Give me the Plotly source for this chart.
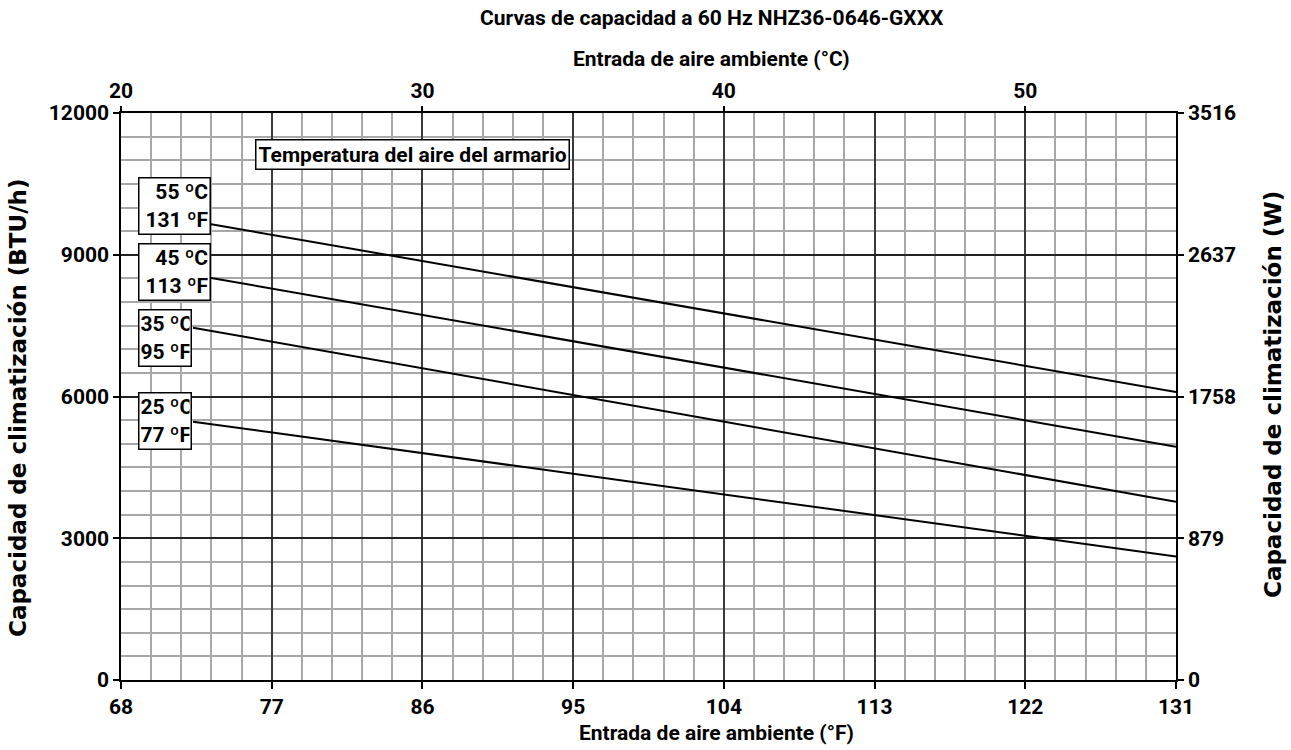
import plotly.graph_objects as go

# ---- data ----
temp_f_start = [73.3, 73.3, 72.3, 72.3]
temp_f_end = [131, 131, 131, 131]
cap_start = [9650, 8514, 7456, 5467]   # BTU/h
cap_end = [6095, 4938, 3774, 2616]     # BTU/h
series_labels = ["55 ºC<br>131 ºF", "45 ºC<br>113 ºF", "35 ºC<br>95 ºF", "25 ºC<br>77 ºF"]

f_ticks = [68, 77, 86, 95, 104, 113, 122, 131]
c_ticks = [20, 30, 40, 50]
btu_ticks = [0, 3000, 6000, 9000, 12000]
w_ticks = [0, 879, 1758, 2637, 3516]

title = "Curvas de capacidad a 60 Hz NHZ36-0646-GXXX"
x_title_f = "Entrada de aire ambiente (°F)"
x_title_c = "Entrada de aire ambiente (°C)"
y_title_btu = "Capacidad de climatización (BTU/h)"
y_title_w = "Capacidad de climatización (W)"
legend_title = "Temperatura del aire del armario"

FONT = "Roboto"
VFONT = "DejaVu Sans"

fig = go.Figure()
for xs, xe, ys, ye in zip(temp_f_start, temp_f_end, cap_start, cap_end):
    fig.add_trace(go.Scatter(x=[xs, xe], y=[ys, ye], mode="lines",
                             line=dict(color="black", width=2), showlegend=False,
                             hoverinfo="skip"))
# invisible trace to activate secondary axes
fig.add_trace(go.Scatter(x=[20], y=[0], xaxis="x2", yaxis="y2", mode="markers",
                         marker=dict(opacity=0), showlegend=False, hoverinfo="skip"))

L, R, T, B = 121, 115, 113, 70
W, H = 1291, 750
pw, ph = W - L - R, H - T - B

def px(xp):
    return (xp - L) / pw

def py(yp):
    return (H - B - yp) / ph

tickfont = dict(family=FONT, size=21, color="black", weight="bold")

fig.update_layout(
    width=W, height=H,
    margin=dict(l=L, r=R, t=T, b=B),
    paper_bgcolor="white", plot_bgcolor="white",
    xaxis=dict(range=[68, 131], tickvals=f_ticks, ticks="outside", ticklen=7,
               tickcolor="black", tickwidth=1.5, tickfont=tickfont,
               showline=True, linecolor="black", linewidth=1.5,
               showgrid=True, gridcolor="#3a3a3a", gridwidth=2,
               minor=dict(dtick=1.8, tick0=68, showgrid=True, gridcolor="#a8a8a8", gridwidth=1.5, ticks=""),
               zeroline=False),
    xaxis2=dict(range=[20, 55], tickvals=c_ticks, overlaying="x", side="top",
                ticks="outside", ticklen=5, tickcolor="black", tickwidth=1.5, tickfont=tickfont,
                showline=True, linecolor="black", linewidth=1.5, showgrid=False,
                zeroline=False),
    yaxis=dict(range=[0, 12000], tickvals=btu_ticks, ticktext=[str(v) for v in btu_ticks],
               ticks="outside", ticklen=6,
               tickcolor="black", tickwidth=1.5, tickfont=tickfont,
               showline=True, linecolor="black", linewidth=1.5,
               showgrid=True, gridcolor="#222222", gridwidth=1.5,
               minor=dict(dtick=500, tick0=0, showgrid=True, gridcolor="#a8a8a8", gridwidth=1.5, ticks=""),
               zeroline=False),
    yaxis2=dict(range=[0, 3516.85], tickvals=w_ticks, ticktext=[str(v) for v in w_ticks],
                overlaying="y", side="right",
                ticks="outside", ticklen=6, tickcolor="black", tickwidth=1.5, tickfont=tickfont,
                showline=True, linecolor="black", linewidth=1.5, showgrid=False,
                zeroline=False),
)

hfont = dict(family=FONT, size=21, color="black", weight="bold")
vfont = dict(family=VFONT, size=23, color="black", weight="bold")

# titles as annotations (pixel-placed)
def add_text(text, cx, cy, font, angle=0):
    fig.add_annotation(text=text, xref="paper", yref="paper", x=px(cx), y=py(cy),
                       xanchor="center", yanchor="middle", showarrow=False,
                       font=font, textangle=angle)

add_text(title, 712, 18, hfont)
add_text(x_title_c, 711, 59, hfont)
add_text(x_title_f, 716, 733, hfont)
add_text(y_title_btu, 18, 408, vfont, -90)
add_text(y_title_w, 1273, 395, vfont, -90)

box_font = dict(family=FONT, size=21, color="black", weight="bold")
# label boxes: (center x px, center y px, width, align)
box_pos = [(174, 205.5, 68, "right"), (174, 271.5, 68, "right"),
           (164.5, 338, 49, "left"), (164.5, 420.5, 49, "left")]
for lab, (cx, cy, wd, al) in zip(series_labels, box_pos):
    fig.add_annotation(text=lab, xref="paper", yref="paper",
                       x=px(cx), y=py(cy), xanchor="center", yanchor="middle",
                       showarrow=False, font=box_font, align=al,
                       bgcolor="white", bordercolor="black", borderwidth=1.5,
                       borderpad=1, width=wd, height=53)

fig.add_annotation(text=legend_title, xref="paper", yref="paper",
                   x=px(412), y=py(154.5), xanchor="center", yanchor="middle",
                   showarrow=False, font=box_font, bgcolor="white",
                   bordercolor="black", borderwidth=1.5, borderpad=2)

fig.write_html("out.html")
